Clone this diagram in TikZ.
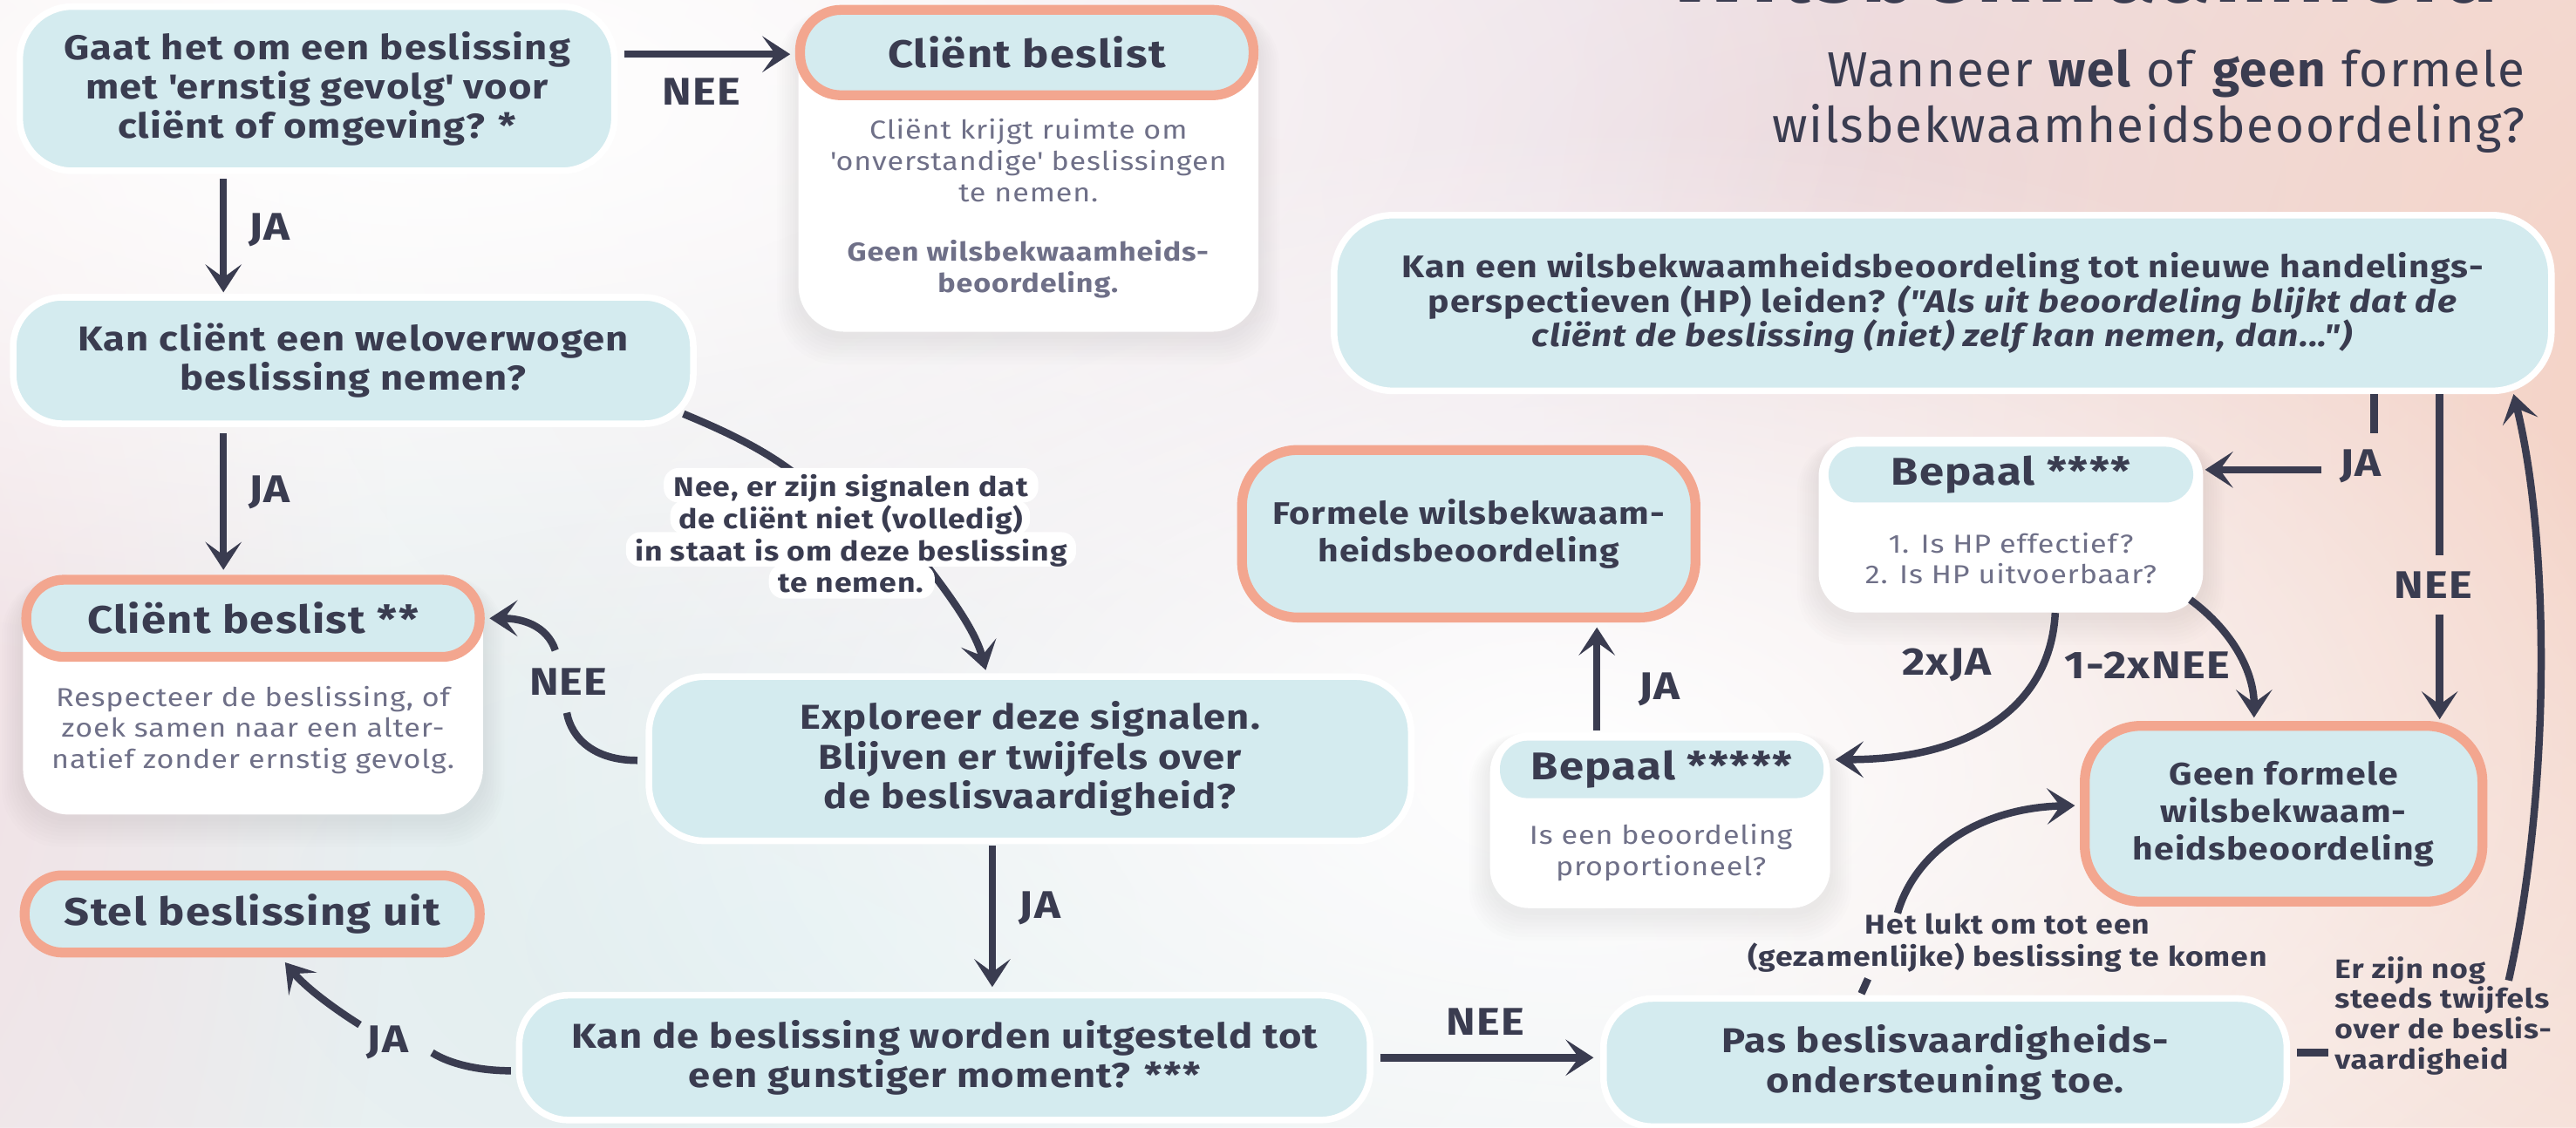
\documentclass[tikz,border=0pt]{standalone}
\usepackage{fontspec}
\setmainfont{Fira Sans}
\newfontfamily\trkfont{Fira Sans}[LetterSpace=3, FakeStretch=1.145]
\newfontfamily\subfam{Fira Sans}[LetterSpace=3]
\usetikzlibrary{arrows.meta,fadings,calc}
\pgfdeclarelayer{bg}
\pgfdeclarelayer{shadow}
\pgfsetlayers{bg,shadow,main}
\definecolor{ink}{HTML}{3A3C50}
\definecolor{boxblue}{HTML}{D4EBEF}
\definecolor{salmon}{HTML}{F3A68F}
\definecolor{greytext}{HTML}{6F7088}
\definecolor{bgbase}{HTML}{F8F4F4}
\definecolor{lavpink}{HTML}{EADBE3}
\definecolor{peach}{HTML}{F5D2C4}
\definecolor{pinkleft}{HTML}{F2E0E4}
\definecolor{bluish}{HTML}{E0EEF0}
\newcommand\myboxfont{\trkfont\bfseries\fontsize{21}{24}\selectfont}
\newcommand\myofont{\trkfont\bfseries\fontsize{19}{22.8}\selectfont}
\newcommand\mytopfont{\trkfont\bfseries\fontsize{19}{20.8}\selectfont}
\newcommand\myheadfont{\trkfont\bfseries\fontsize{23.5}{27}\selectfont}
\newcommand\mybodyfont{\trkfont\fontsize{15.8}{19}\selectfont}
\newcommand\mylabfont{\trkfont\bfseries\fontsize{23.5}{26}\selectfont}
\newcommand\myelabfont{\trkfont\bfseries\fontsize{16.5}{19.5}\selectfont}
\newcommand\mysubfont{\subfam\fontsize{30}{34}\selectfont}
\newcommand\mytitlefont{\subfam\bfseries\fontsize{58}{60}\selectfont}
\tikzfading[name=softc, inner color=transparent!0, outer color=transparent!100]
\tikzset{
  qbox/.style={rectangle, fill=boxblue, draw=white, line width=4pt, text=ink, font=\myboxfont, align=center, inner sep=0pt},
  obox/.style={rectangle, fill=boxblue, draw=salmon, line width=6pt, text=ink, font=\myofont, align=center, inner sep=0pt},
  card/.style={rectangle, fill=white, draw=none, inner sep=0pt},
  hbox/.style={rectangle, fill=boxblue, draw=none, inner sep=0pt, text=ink, font=\myheadfont},
  body/.style={text=greytext, font=\mybodyfont, align=center, inner sep=0pt},
  lab/.style={text=ink, font=\mylabfont, inner sep=0pt},
  elab/.style={text=ink, font=\myelabfont, inner sep=0pt},
  arr/.style={draw=ink, line width=4.5pt, -{Stealth[length=17pt,width=22pt,inset=8pt]}},
  ln/.style={draw=ink, line width=4.5pt},
  halo/.style={fill=white, rounded corners=9pt},
}
\begin{document}
\begin{tikzpicture}[x=1pt,y=-1pt]
\useasboundingbox (0,0) rectangle (1568,686.33);
% background
\begin{pgfonlayer}{bg}
\fill[bgbase] (0,0) rectangle (1568,686.33);
\fill[bluish, path fading=softc] (470,570) ellipse [x radius=900, y radius=520];
\fill[lavpink, path fading=softc] (1120,110) ellipse [x radius=950, y radius=560];
\fill[peach, path fading=softc] (1640,260) ellipse [x radius=700, y radius=900];
\fill[pinkleft, path fading=softc] (-60,430) ellipse [x radius=300, y radius=700];
\fill[white, path fading=softc] (260,60) ellipse [x radius=900, y radius=360];
\fill[white, path fading=softc] (960,470) ellipse [x radius=700, y radius=400];
\end{pgfonlayer}
% title fragment and subtitle
\node[anchor=base east, inner sep=0pt, text=ink, font=\mytitlefont] (title) at (1521,1.5) {Wilsbekwaamheid};
\node[anchor=base east, inner sep=0pt, text=ink, font=\mysubfont] (sub1) at (1537,53) {Wanneer \textbf{wel} of \textbf{geen} formele};
\node[anchor=base east, inner sep=0pt, text=ink, font=\mysubfont] (sub2) at (1537,87) {wilsbekwaamheidsbeoordeling?};
% cards
\node[card, minimum width=280, minimum height=198, rounded corners=28] (card1) at (626,103) {};
\node[obox, font=\myheadfont, minimum width=276, minimum height=52, rounded corners=25] (cb1) at (625,32) {Cliënt beslist};
\node[body] (cb1txt) at (626,127) {Cliënt krijgt ruimte om\\\textquotesingle onverstandige\textquotesingle{} beslissingen\\te nemen.\\[17pt]\textbf{Geen wilsbekwaamheids-}\\\textbf{beoordeling.}};
\node[card, minimum width=280, minimum height=146, rounded corners=28] (card2) at (154,423) {};
\node[obox, font=\myheadfont, minimum width=276, minimum height=47, rounded corners=23] (cb2) at (154,376.5) {Cliënt beslist **};
\node[body] (cb2txt) at (154,444.5) {Respecteer de beslissing, of\\zoek samen naar een alter-\\natief zonder ernstig gevolg.};
\node[obox, font=\myheadfont, minimum width=277, minimum height=47, rounded corners=23] (stel) at (153.5,556.5) {Stel beslissing uit};
\node[card, minimum width=234, minimum height=107, rounded corners=24] (bep4c) at (1224,319.5) {};
\node[hbox, minimum width=222, minimum height=34, rounded corners=17] (bep4) at (1224,289) {Bepaal ****};
\node[body] (bep4txt) at (1224,340) {1. Is HP effectief?\\2. Is HP uitvoerbaar?};
\node[card, minimum width=207, minimum height=107, rounded corners=24] (bep5c) at (1010.5,499.5) {};
\node[hbox, minimum width=197, minimum height=35, rounded corners=17] (bep5) at (1011.5,468.5) {Bepaal *****};
\node[body] (bep5txt) at (1011,519) {Is een beoordeling\\proportioneel?};
% decision boxes
\node[qbox, minimum width=362, minimum height=100, rounded corners=32] (q1) at (193,54) {Gaat het om een beslissing\\met \textquotesingle ernstig gevolg\textquotesingle{} voor\\cliënt of omgeving? *};
\node[qbox, minimum width=414, minimum height=77, rounded corners=30] (q2) at (215,219.5) {Kan cliënt een weloverwogen\\beslissing nemen?};
\node[qbox, minimum width=464, minimum height=100, rounded corners=34] (expl) at (627,462) {Exploreer deze signalen.\\Blijven er twijfels over\\de beslisvaardigheid?};
\node[qbox, minimum width=518, minimum height=76, rounded corners=30] (unt) at (575,644) {Kan de beslissing worden uitgesteld tot\\een gunstiger moment? ***};
\node[qbox, minimum width=416, minimum height=78, rounded corners=30] (pas) at (1184,647) {Pas beslisvaardigheids-\\ondersteuning toe.};
\node[qbox, font=\mytopfont, minimum width=741, minimum height=107, rounded corners=36] (tb) at (1182.5,184.5) {Kan een wilsbekwaamheidsbeoordeling tot nieuwe handelings-\\perspectieven (HP) leiden? \textit{("Als uit beoordeling blijkt dat de}\\\textit{cliënt de beslissing (niet) zelf kan nemen, dan...")}};
\node[obox, minimum width=276, minimum height=102, rounded corners=34] (form) at (894,325) {Formele wilsbekwaam-\\heidsbeoordeling};
\node[obox, minimum width=242, minimum height=107, rounded corners=34] (geen) at (1390,495.5) {Geen formele\\wilsbekwaam-\\heidsbeoordeling};
% shadows
\begin{pgfonlayer}{shadow}
\foreach \nm/\rr in {card1/28, card2/28, bep4c/24, bep5c/24}{
  \foreach \k in {1,...,8}{
    \fill[black, opacity=0.009, rounded corners=\rr+\k] ($(\nm.north west)+(-\k*1.6,-\k*0.4+4)$) rectangle ($(\nm.south east)+(\k*1.6,\k*2.2+2)$);
  }
}
\end{pgfonlayer}
% connectors
\coordinate (colA) at (136,0);
\draw[arr] ($(q1.south -| colA)+(0,3)$) -- ($(q2.north -| colA)+(0,-1)$);
\node[lab] (ja1) at (164,140) {JA};
\draw[arr] ($(q2.south -| colA)+(0,4)$) -- ($(cb2.north -| colA)+(0,-3)$);
\node[lab] (ja2) at (164,300) {JA};
\draw[arr] ($(q1.east |- cb1.west)+(4,1)$) -- ($(cb1.west)+(-3,1)$);
\node[lab] (nee1) at (427,56) {NEE};
% Q2 -> explore
\coordinate (d0) at ($(q2.south east)+(-8,-8)$);
\coordinate (d1) at (486,290);
\coordinate (d2) at (563,343);
\coordinate (d3) at ($(expl.north)+(-27,-2)$);
\draw[ln] (d0) .. controls (445,264) and (467,275) .. (d1);
\draw[arr] (d2) .. controls (580,365) and (594,385) .. (d3);
\fill[halo] (404,285) rectangle (632,306);
\fill[halo] (408,304.5) rectangle (627,325.5);
\fill[halo] (381,324) rectangle (655,345);
\fill[halo] (468,343.5) rectangle (569,364.5);
\node[elab, align=center] (neesig) at (518,325) {Nee, er zijn signalen dat\\de cliënt niet (volledig)\\in staat is om deze beslissing\\te nemen.};
% explore -> client beslist **
\coordinate (e0) at ($(expl.west)+(-5,1)$);
\coordinate (e1) at (345,434);
\coordinate (e2) at (338,396);
\coordinate (e3) at ($(cb2.east)+(3,0)$);
\draw[ln] (e0) .. controls (362,463) and (348,450) .. (e1);
\draw[arr] (e2) .. controls (333,381) and (318,376.5) .. (e3);
\node[lab] (nee2) at (346,415) {NEE};
% explore -> uitstellen
\coordinate (colF) at (604,0);
\draw[arr] ($(expl.south -| colF)+(0,1)$) -- ($(unt.north -| colF)+(0,-3)$);
\node[lab] (ja3) at (633,553) {JA};
% uitstellen -> stel
\coordinate (g0) at ($(unt.west)+(-3,8)$);
\coordinate (g1) at (263,641);
\coordinate (g2) at (219,624);
\coordinate (g3) at ($(stel.south)+(20,3)$);
\draw[ln] (g0) .. controls (292,652) and (274,648) .. (g1);
\draw[arr] (g2) .. controls (200,612) and (185,600) .. (g3);
\node[lab] (ja4) at (236,635) {JA};
% uitstellen -> pas
\draw[arr] ($(unt.east)+(4,0)$) -- ($(pas.west |- unt.east)+(-4,0)$);
\node[lab] (nee3) at (904,622) {NEE};
% pas -> geen
\coordinate (i0) at ($(pas.north)+(-51,-1)$);
\coordinate (i1) at (1137,596);
\coordinate (i2) at (1155,556);
\coordinate (i3) at ($(geen.west)+(-3,-5)$);
\draw[ln] (i0) -- (i1);
\draw[arr] (i2) .. controls (1166,518) and (1205,492) .. (i3);
\node[elab, align=center] (lukt) at (1222,574) {Het lukt om tot een\\(gezamenlijke) beslissing te komen};
% pas -> top box
\coordinate (j0) at ($(pas.east)+(4,-6)$);
\coordinate (j1) at (1417,641);
\coordinate (j2) at (1527,597);
\coordinate (j3) at ($(tb.south east)+(-25,0)$);
\draw[ln] (j0) -- (j1);
\draw[arr] (j2) .. controls (1553,480) and (1552,330) .. (j3);
\node[elab, anchor=west, align=left, font=\trkfont\bfseries\fontsize{16.3}{18.4}\selectfont] (twijf) at (1421,618.5) {Er zijn nog\\steeds twijfels\\over de beslis-\\vaardigheid};
% top box -> bepaal ****
\coordinate (colK) at (1445,0);
\coordinate (k1) at (1445,264);
\coordinate (k2) at (1413,286);
\draw[ln] (tb.south -| colK) -- (k1);
\draw[arr] (k2) -- ($(bep4c.east |- k2)+(1,0)$);
\node[lab] (ja5) at (1437,284) {JA};
% top box -> geen
\coordinate (colL) at (1485,0);
\coordinate (l1) at (1485,338);
\coordinate (l2) at (1485,374);
\draw[ln] (tb.south -| colL) -- (l1);
\draw[arr] (l2) -- ($(geen.north -| colL)+(0,-1)$);
\node[lab] (nee4) at (1481,356) {NEE};
% bepaal **** -> bepaal *****
\coordinate (colM) at (1251,0);
\coordinate (m1) at ($(bep5c.east |- bep5.east)+(3,-6)$);
\draw[arr] (bep4c.south -| colM) .. controls (1248,430) and (1200,462.5) .. (m1);
\node[lab] (x2ja) at (1185,405) {2xJA};
% bepaal **** -> geen
\coordinate (n0) at ($(bep4c.south east)+(-8,-8)$);
\coordinate (n1) at ($(geen.north)+(-18,-2)$);
\draw[arr] (n0) .. controls (1360,385) and (1372,410) .. (n1);
\node[lab] (x12nee) at (1307,405) {1-2xNEE};
% bepaal ***** -> formele
\coordinate (colO) at (972,0);
\draw[arr] ($(bep5c.north -| colO)+(0,-1)$) -- ($(form.south -| colO)+(0,3)$);
\node[lab] (ja6) at (1010,420) {JA};
\end{tikzpicture}
\end{document}
